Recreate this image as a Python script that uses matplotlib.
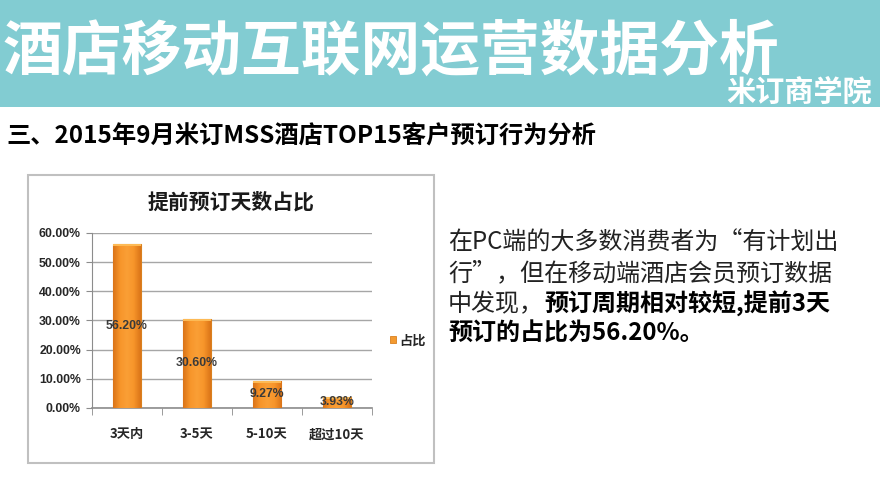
import matplotlib
matplotlib.use("Agg")
import matplotlib.pyplot as plt
import numpy as np
from matplotlib.patches import Rectangle
from matplotlib.colors import LinearSegmentedColormap

plt.rcParams['font.family'] = ['Noto Sans CJK SC', 'DejaVu Sans']

# ---- data ----
categories = ["3天内", "3-5天", "5-10天", "超过10天"]
values = [0.5620, 0.3060, 0.0927, 0.0393]
value_labels = ["56.20%", "30.60%", "9.27%", "3.93%"]
y_ticks = [0.0, 0.1, 0.2, 0.3, 0.4, 0.5, 0.6]
y_tick_labels = ["0.00%", "10.00%", "20.00%", "30.00%", "40.00%", "50.00%", "60.00%"]
series_name = "占比"
main_title = "酒店移动互联网运营数据分析"
brand = "米订商学院"
subtitle = "三、2015年9月米订MSS酒店TOP15客户预订行为分析"
chart_title = "提前预订天数占比"
para_lines = [
    [("在PC端的大多数消费者为“有计划出", "normal")],
    [("行”，但在移动端酒店会员预订数据", "normal")],
    [("中发现，", "normal"), ("预订周期相对较短,提前3天", "bold")],
    [("预订的占比为56.20%。", "bold")],
]

W, H = 880, 495
fig = plt.figure(figsize=(W / 100, H / 100), dpi=100)
fig.patch.set_facecolor("white")

def fx(x):
    return x / W

def fy(y):
    return 1 - y / H

# header band
fig.patches.append(Rectangle((0, fy(107)), 1, 107 / H, transform=fig.transFigure,
                             facecolor="#82CCD2", edgecolor="none", zorder=0))
fig.text(fx(3), fy(53), main_title, color="white", fontsize=43, fontweight="bold",
         ha="left", va="center")
fig.text(fx(872), fy(92), brand, color="white", fontsize=21, fontweight="bold",
         ha="right", va="center")

# subtitle
fig.text(fx(6), fy(136), subtitle, color="black", fontsize=17.5, fontweight="bold",
         ha="left", va="center")

# chart box
fig.patches.append(Rectangle((fx(28), fy(463)), (434 - 28) / W, (463 - 175) / H,
                             transform=fig.transFigure, facecolor="white",
                             edgecolor="#C0C0C0", linewidth=1.5, zorder=1))
fig.text(fx(231), fy(202), chart_title, color="#1a1a1a", fontsize=15,
         fontweight="bold", ha="center", va="center", zorder=3)

ax = fig.add_axes([fx(92), fy(408), (372 - 92) / W, (408 - 233) / H], zorder=2)
ax.set_facecolor("none")
x = np.arange(len(categories))
bw = 0.4
bars = ax.bar(x, values, width=bw, color="#F79A2E", edgecolor="#D9801F",
              linewidth=0.8, zorder=3)

cmap = LinearSegmentedColormap.from_list("og", ["#DA7418", "#F7952A", "#FA9F36", "#F7952A", "#DA7418"])
grad = np.linspace(0, 1, 64).reshape(1, -1)
for b in bars:
    bx, by = b.get_x(), b.get_y()
    bwid, bh = b.get_width(), b.get_height()
    im = ax.imshow(grad, cmap=cmap, aspect="auto", extent=[bx, bx + bwid, by, by + bh],
                   zorder=3.5, interpolation="bicubic")
    im.set_clip_path(b)
    cap = min(0.008, bh * 0.3)
    ax.add_patch(Rectangle((bx, by + bh - cap), bwid, cap, facecolor="#FDBA55",
                           edgecolor="none", zorder=3.6))

for xi, v, lab in zip(x, values, value_labels):
    ax.text(xi, v / 2, lab, ha="center", va="center", fontsize=8.8, fontweight="bold",
            color="#3a3a3a", zorder=5, family=["Liberation Sans", "DejaVu Sans"])

ax.set_xlim(-0.5, 3.5)
ax.set_ylim(0, 0.6)
ax.set_yticks(y_ticks)
ax.set_yticklabels(y_tick_labels, fontsize=8.8, color="#262626", fontweight="bold",
                   family=["Liberation Sans", "DejaVu Sans"])
ax.yaxis.grid(True, color="#A6A6A6", linewidth=1.0, zorder=0)
ax.set_axisbelow(True)
ax.set_xticks(x)
ax.set_xticklabels(categories, fontsize=9.5, color="#262626", fontweight="bold")
ax.set_xticks([-0.5, 0.5, 1.5, 2.5, 3.5], minor=True)
ax.tick_params(axis="x", which="major", length=0, pad=14)
ax.tick_params(axis="x", which="minor", length=5, color="#8C8C8C", direction="out")
ax.tick_params(axis="y", length=4, color="#8C8C8C", direction="out", pad=4)
for s in ["top", "right"]:
    ax.spines[s].set_visible(False)
ax.spines["left"].set_color("#8C8C8C")
ax.spines["bottom"].set_color("#8C8C8C")
ax.spines["bottom"].set_linewidth(1.2)

# legend
fig.patches.append(Rectangle((fx(390), fy(343)), 6 / W, 7 / H, transform=fig.transFigure,
                             facecolor="#F39A30", edgecolor="#D9801F", linewidth=0.6, zorder=3))
fig.text(fx(399), fy(341), series_name, fontsize=9.5, fontweight="bold", color="#262626",
         ha="left", va="center", zorder=3)

# paragraph
line_y = [243, 273, 304, 334]
for ly, parts in zip(line_y, para_lines):
    xpos = fx(448)
    for txt, wt in parts:
        t = fig.text(xpos, fy(ly), txt, fontsize=17.3, fontweight=wt,
                     color="#222222" if wt == "normal" else "black", ha="left", va="center")
        fig.canvas.draw()
        bb = t.get_window_extent()
        xpos = (bb.x1) / W

fig.savefig("out.png", dpi=100)
